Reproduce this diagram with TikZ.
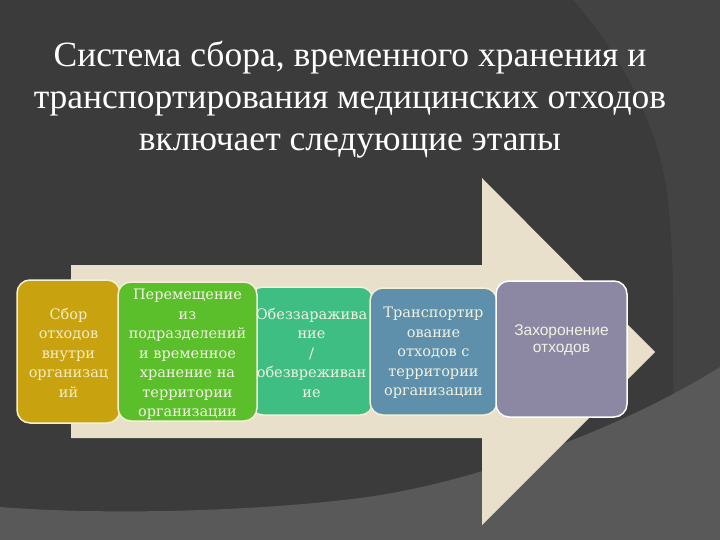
\documentclass[tikz,border=0pt]{standalone}
\usepackage{fontspec}
\setmainfont{Liberation Serif}
\newfontfamily\boxfont{DejaVu Serif}
\newfontfamily\sansfont{Liberation Sans}
\definecolor{bgdark}{HTML}{3B3B3B}
\definecolor{bgmid}{HTML}{434343}
\definecolor{bglight}{HTML}{595959}
\definecolor{arrowc}{HTML}{E9E0CC}
\definecolor{cgold}{HTML}{C9A30F}
\definecolor{cgreen}{HTML}{5BBE2B}
\definecolor{cteal}{HTML}{3FBE83}
\definecolor{cblue}{HTML}{5E90AB}
\definecolor{cpurple}{HTML}{8C88A3}
\definecolor{bordc}{HTML}{F4F0D6}
\definecolor{txtc}{HTML}{F2F1E2}
\definecolor{txtgold}{HTML}{F6EDC2}
\begin{document}
\begin{tikzpicture}[x=1pt,y=-1pt,
  stagebox/.style={draw=bordc, line width=1.5pt, rounded corners=13pt, inner sep=0pt},
  stagetext/.style={align=center, text=txtc, inner sep=0pt,
    font=\boxfont\fontsize{14.5}{19.5}\selectfont},
  titletext/.style={align=center, text=white, inner sep=0pt,
    font=\fontsize{35.5}{42}\selectfont}]
\useasboundingbox (0,0) rectangle (720,540);
% background
\fill[bgmid] (0,0) rectangle (720,540);
\fill[bgdark] (0,0) -- (573,0) .. controls (625,60) and (660,130) .. (668,200)
  .. controls (672,240) and (673,280) .. (673,300) -- (673,540) -- (0,540) -- cycle;
\fill[bglight] (0,507) .. controls (100,515) and (250,512) .. (360,498)
  .. controls (470,484) and (620,430) .. (720,367) -- (720,540) -- (0,540) -- cycle;
% title
\node[titletext, anchor=base] (title) at (350,151)
  {Система сбора, временного хранения и\\
   транспортирования медицинских отходов\\
   включает следующие этапы};
% big arrow
\fill[arrowc] (71,265) -- (482,265) -- (482,178) -- (655,352) -- (482,525)
  -- (482,438) -- (71,438) -- cycle;
% stages
\node[stagebox, fill=cgold, minimum width=103pt, minimum height=143pt] (b1) at (68.5,351.5) {};
\node[stagebox, fill=cteal, minimum width=123pt, minimum height=128pt] (b3) at (311.5,351) {};
\node[stagebox, fill=cgreen, minimum width=139pt, minimum height=139pt] (b2) at (187.5,351.5) {};
\node[stagebox, fill=cblue, minimum width=127pt, minimum height=127pt] (b4) at (433.5,351.5) {};
\node[stagebox, draw=white, fill=cpurple, minimum width=131pt, minimum height=136pt] (b5) at (561.5,349) {};
\node[stagetext, text=txtgold] (t1) at ([yshift=-1pt]b1.center) {Сбор\\ отходов\\ внутри\\ организац\\ ий};
\node[stagetext] (t2) at ([yshift=-3pt]b2.center) {Перемещение\\ из\\ подразделений\\ и временное\\ хранение на\\ территории\\ организации};
\node[stagetext] (t3) at ([yshift=-1.5pt]b3.center) {Обеззаражива\\ ние\\ /\\ обезвреживан\\ ие};
\node[stagetext] (t4) at ([yshift=-1.5pt]b4.center) {Транспортир\\ ование\\ отходов с\\ территории\\ организации};
\node[align=center, text=txtc, inner sep=0pt, anchor=base,
  font=\sansfont\fontsize{15.5}{17}\selectfont] (t5) at (561.5,352) {Захоронение\\ отходов};
\end{tikzpicture}
\end{document}
